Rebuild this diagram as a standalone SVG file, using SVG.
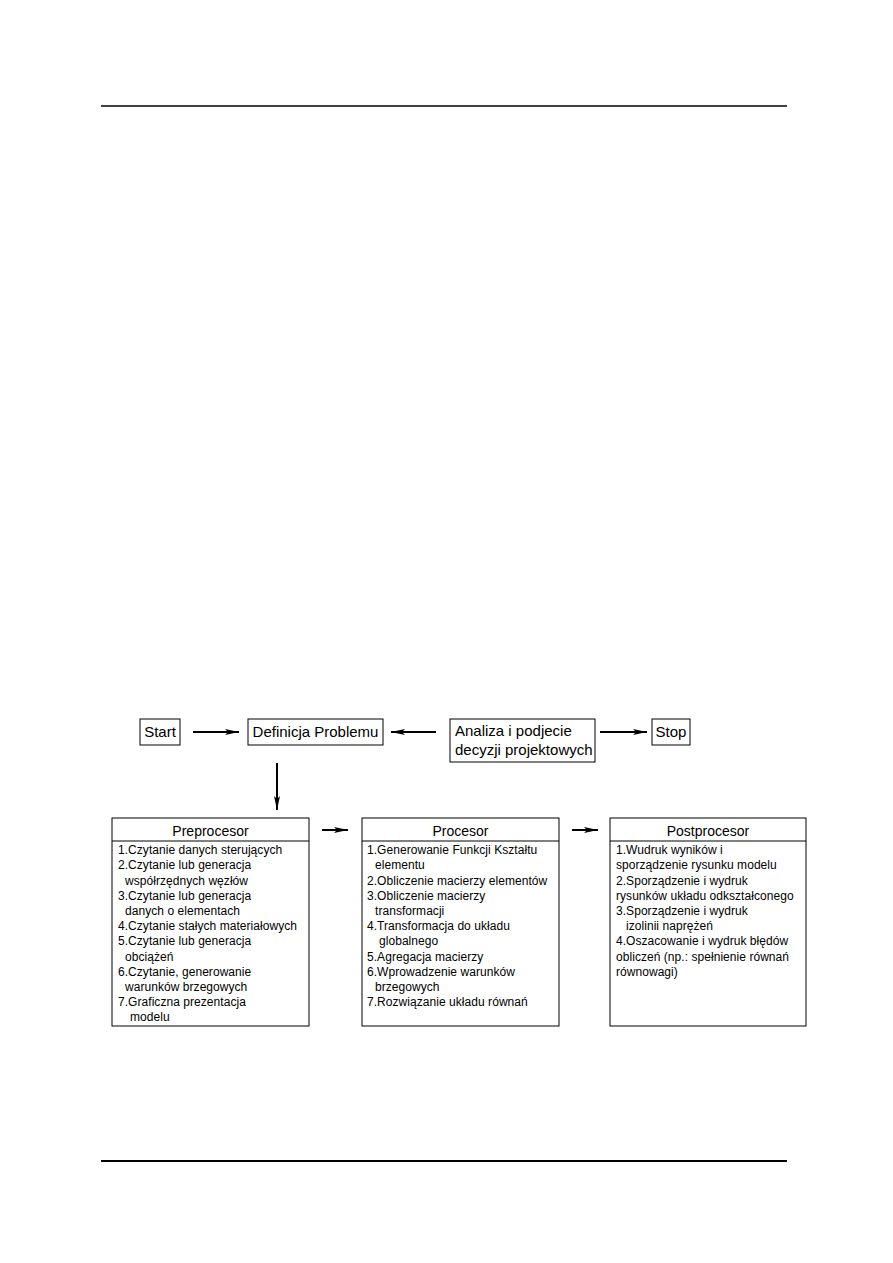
<svg xmlns="http://www.w3.org/2000/svg" width="893" height="1263" viewBox="0 0 893 1263">
<style>
.box{fill:#fff;stroke:#000;stroke-width:1}
.lbl{font-family:"Liberation Sans",Arial,sans-serif;font-size:15px;fill:#000}
.ttl{font-family:"Liberation Sans",Arial,sans-serif;font-size:14px;fill:#000;text-anchor:middle}
.itm{font-family:"Liberation Sans",Arial,sans-serif;font-size:12px;fill:#000;letter-spacing:0.05px}
.con{stroke:#000;stroke-width:2;fill:none}
</style>
<defs>
<marker id="ah" viewBox="0 0 14 8" refX="14" refY="4" markerWidth="14" markerHeight="8" markerUnits="userSpaceOnUse" orient="auto">
<path d="M0,1 L3,4 L0,7 L14,4 Z" fill="#000"/>
</marker>
</defs>
<rect width="893" height="1263" fill="#fff"/>
<line x1="101" y1="106" x2="787" y2="106" stroke="#000" stroke-width="1.5"/>
<line x1="101" y1="1161" x2="787" y2="1161" stroke="#000" stroke-width="2"/>

<g id="start"><rect class="box" x="140" y="719" width="40" height="26"/><text class="lbl" x="160" y="737" text-anchor="middle">Start</text></g>
<g id="definicja"><rect class="box" x="248" y="719" width="135" height="26"/><text class="lbl" x="315.5" y="737" text-anchor="middle">Definicja Problemu</text></g>
<g id="analiza"><rect class="box" x="450" y="719" width="145" height="43"/><text class="lbl" x="455" y="736">Analiza i podjecie</text><text class="lbl" x="455" y="755">decyzji projektowych</text></g>
<g id="stop"><rect class="box" x="652" y="719" width="38" height="26"/><text class="lbl" x="671" y="737" text-anchor="middle">Stop</text></g>

<g id="preprocesor">
<rect class="box" x="112" y="818" width="197" height="208"/>
<line x1="112" y1="841" x2="309" y2="841" stroke="#000"/>
<text class="ttl" x="210.5" y="836">Preprocesor</text>
<text class="itm" x="118" y="854">1.Czytanie danych sterujących</text>
<text class="itm" x="118" y="869">2.Czytanie lub generacja</text>
<text class="itm" x="125" y="885">współrzędnych węzłów</text>
<text class="itm" x="118" y="900">3.Czytanie lub generacja</text>
<text class="itm" x="125" y="915">danych o elementach</text>
<text class="itm" x="118" y="930">4.Czytanie stałych materiałowych</text>
<text class="itm" x="118" y="945">5.Czytanie lub generacja</text>
<text class="itm" x="125" y="961">obciążeń</text>
<text class="itm" x="118" y="976">6.Czytanie, generowanie</text>
<text class="itm" x="125" y="991">warunków brzegowych</text>
<text class="itm" x="118" y="1006">7.Graficzna prezentacja</text>
<text class="itm" x="130" y="1021">modelu</text>
</g>

<g id="procesor">
<rect class="box" x="362" y="818" width="197" height="208"/>
<line x1="362" y1="841" x2="559" y2="841" stroke="#000"/>
<text class="ttl" x="460.5" y="836">Procesor</text>
<text class="itm" x="367" y="854">1.Generowanie Funkcji Kształtu</text>
<text class="itm" x="375" y="869">elementu</text>
<text class="itm" x="367" y="885">2.Obliczenie macierzy elementów</text>
<text class="itm" x="367" y="900">3.Obliczenie macierzy</text>
<text class="itm" x="375" y="915">transformacji</text>
<text class="itm" x="367" y="930">4.Transformacja do układu</text>
<text class="itm" x="379" y="945">globalnego</text>
<text class="itm" x="367" y="961">5.Agregacja macierzy</text>
<text class="itm" x="367" y="976">6.Wprowadzenie warunków</text>
<text class="itm" x="375" y="991">brzegowych</text>
<text class="itm" x="367" y="1006">7.Rozwiązanie układu równań</text>
</g>

<g id="postprocesor">
<rect class="box" x="610" y="818" width="196" height="208"/>
<line x1="610" y1="841" x2="806" y2="841" stroke="#000"/>
<text class="ttl" x="708" y="836">Postprocesor</text>
<text class="itm" x="616" y="854">1.Wudruk wyników i</text>
<text class="itm" x="616" y="869">sporządzenie rysunku modelu</text>
<text class="itm" x="616" y="885">2.Sporządzenie i wydruk</text>
<text class="itm" x="616" y="900">rysunków układu odkształconego</text>
<text class="itm" x="616" y="915">3.Sporządzenie i wydruk</text>
<text class="itm" x="626" y="930">izolinii naprężeń</text>
<text class="itm" x="616" y="945">4.Oszacowanie i wydruk błędów</text>
<text class="itm" x="616" y="961">obliczeń (np.: spełnienie równań</text>
<text class="itm" x="616" y="976">równowagi)</text>
</g>

<g id="connectors">
<line class="con" x1="193" y1="732" x2="239" y2="732" marker-end="url(#ah)"/>
<line class="con" x1="436" y1="732" x2="391" y2="732" marker-end="url(#ah)"/>
<line class="con" x1="600" y1="732" x2="647" y2="732" marker-end="url(#ah)"/>
<line class="con" x1="277" y1="763" x2="277" y2="810" marker-end="url(#ah)"/>
<line class="con" x1="322" y1="830" x2="348" y2="830" marker-end="url(#ah)"/>
<line class="con" x1="572" y1="830" x2="598" y2="830" marker-end="url(#ah)"/>
</g>
</svg>
